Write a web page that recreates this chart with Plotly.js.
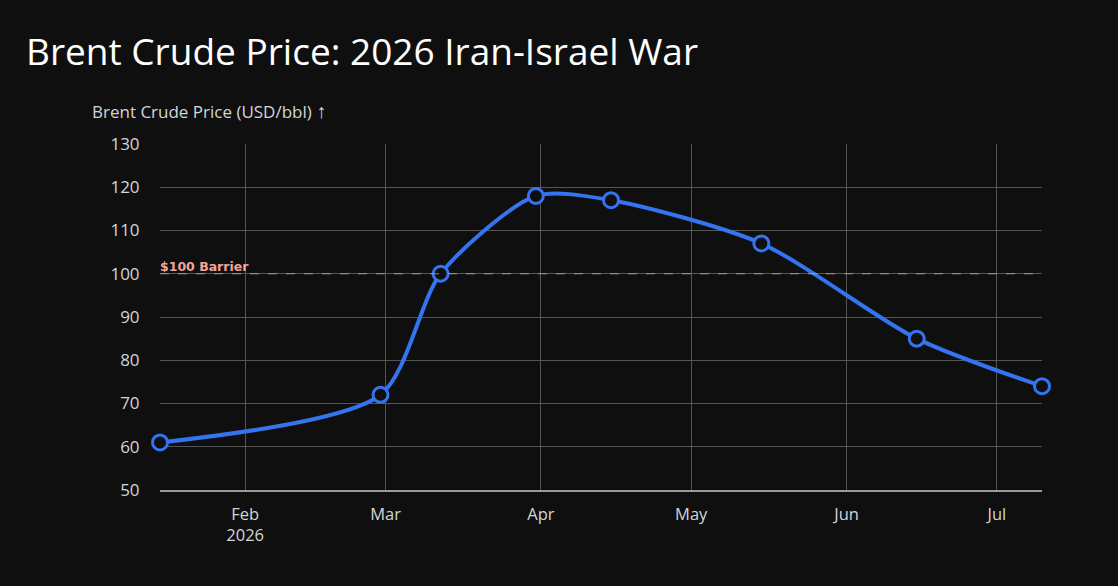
<!DOCTYPE html>
<html>
<head>
<meta charset="utf-8">
<script src="https://cdn.plot.ly/plotly-3.0.1.min.js"></script>
<style>
  html, body { margin: 0; padding: 0; background: #0f0f0f; }
  #chart { width: 1118px; height: 586px; }
</style>
</head>
<body>
<div id="chart"></div>
<script>
// Brent prices
var dates = ['2026-01-15', '2026-02-28', '2026-03-12', '2026-03-31', '2026-04-15', '2026-05-15', '2026-06-15', '2026-07-10']
var prices = [61, 72, 100, 118, 117, 107, 85, 74]
var barrierLevel = 100
var barrierLabel = '$100 Barrier'
var yTicks = [50, 60, 70, 80, 90, 100, 110, 120, 130]
var monthTicks = ['2026-02-01', '2026-03-01', '2026-04-01', '2026-05-01', '2026-06-01', '2026-07-01']
var monthLabels = ['Feb<br>2026', 'Mar', 'Apr', 'May', 'Jun', 'Jul']

window.onload = () => {
    var trace = {
        x: dates,
        y: prices,
        mode: 'lines+markers',
        line: { color: '#3574f0', width: 4, shape: 'spline', smoothing: 0.75 },
        marker: { size: 15, color: '#0f0f0f', line: { color: '#3574f0', width: 3 } },
        cliponaxis: false,
        hoverinfo: 'x+y'
    }

    var layout = {
        width: 1118,
        height: 586,
        paper_bgcolor: '#0f0f0f',
        plot_bgcolor: '#0f0f0f',
        font: { family: 'Open Sans, sans-serif', color: '#d2d6da', size: 17 },
        showlegend: false,
        margin: { l: 160, r: 76, t: 144, b: 96 },
        title: {
            text: 'Brent Crude Price: 2026 Iran-Israel War',
            font: { family: 'Open Sans, sans-serif', size: 37, color: '#ffffff' },
            x: 26 / 1118, xref: 'container', xanchor: 'left',
            y: 1 - 52 / 586, yref: 'container', yanchor: 'middle'
        },
        xaxis: {
            type: 'date',
            range: [dates[0], dates[dates.length - 1]],
            tickvals: monthTicks,
            ticktext: monthLabels,
            showgrid: true,
            gridcolor: '#555555',
            gridwidth: 1,
            zeroline: false,
            showline: true,
            linecolor: '#9a9a9a',
            linewidth: 2,
            ticks: 'outside',
            ticklen: 8,
            tickcolor: 'rgba(0,0,0,0)',
            tickfont: { size: 16.5, color: '#d2d6da' },
            fixedrange: true
        },
        yaxis: {
            range: [50, 130],
            tickvals: yTicks,
            showgrid: true,
            gridcolor: '#555555',
            gridwidth: 1,
            zeroline: false,
            showline: false,
            ticks: 'outside',
            ticklen: 16,
            tickcolor: 'rgba(0,0,0,0)',
            tickfont: { size: 17, color: '#d2d6da' },
            fixedrange: true
        },
        shapes: [{
            type: 'line',
            xref: 'paper', x0: 0, x1: 1,
            yref: 'y', y0: barrierLevel, y1: barrierLevel,
            line: { color: 'rgba(240,160,155,0.75)', width: 1, dash: 'dash' }
        }],
        annotations: [{
            text: '<b>' + barrierLabel + '</b>',
            xref: 'paper', x: 0, xanchor: 'left', xshift: -2,
            yref: 'y', y: barrierLevel, yanchor: 'bottom',
            yshift: -2,
            showarrow: false,
            font: { family: 'DejaVu Sans, sans-serif', size: 12.5, color: '#f4a49c' }
        }, {
            text: 'Brent Crude Price (USD/bbl) <span style="font-size:20px">↑</span>',
            xref: 'paper', x: (90 - 160) / 882, xanchor: 'left',
            yref: 'paper', y: (490 - 111) / 346, yanchor: 'middle',
            showarrow: false,
            font: { size: 17, color: '#d2d6da' }
        }]
    }

    Plotly.newPlot('chart', [trace], layout, { displayModeBar: false })
}
</script>
</body>
</html>
